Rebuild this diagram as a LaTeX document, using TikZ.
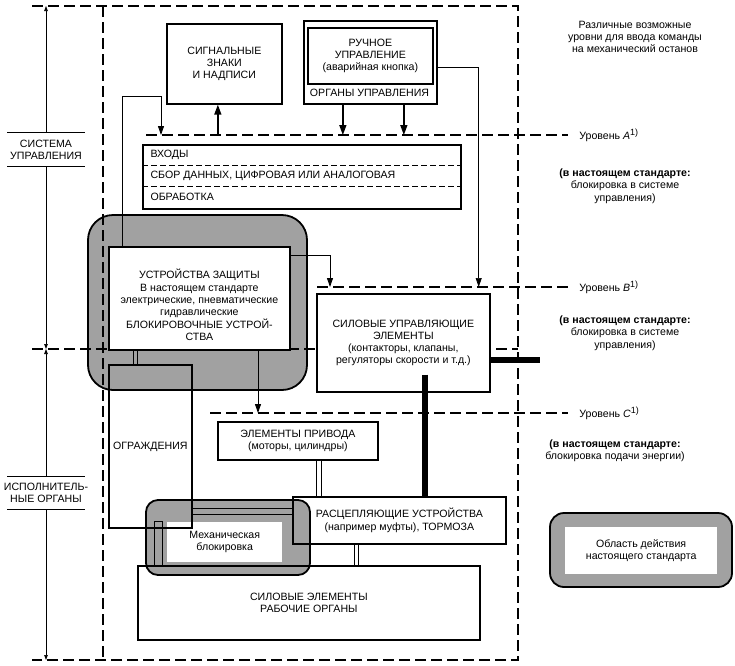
\documentclass[tikz,border=0pt]{standalone}
\usepackage{fontspec}
\setmainfont{Liberation Sans}
\usetikzlibrary{arrows.meta}

\tikzset{
    box/.style={draw, line width=1.7pt, inner sep=2pt, align=center, anchor=north west},
    scopezone/.style={draw, line width=1.8pt, fill=black!37},
    frame/.style={line width=2.1pt, dash pattern=on 11pt off 5pt},
    sepline/.style={line width=0.9pt, dash pattern=on 6pt off 3pt},
    bigarrow/.style={line width=1.5pt, -{Triangle[length=10pt, width=7pt]}},
    thinarrow/.style={line width=0.9pt, -{Triangle[length=9pt, width=6pt]}},
    dimarrow/.style={line width=0.7pt, -{Triangle[length=5pt, width=3.5pt]}},
    mechlink/.style={line width=1pt, double=#1, double distance=3.5pt},
    mechlink/.default=white,
    powerbar/.style={line width=5.5pt},
    note/.style={align=center},
    sidelabel/.style={align=center, minimum height=33, inner sep=0pt},
}

\begin{document}
\begin{tikzpicture}[x=1pt, y=-1pt, font=\fontsize{10.6}{12.3}\selectfont]
    \useasboundingbox (0,0) rectangle (735,665);

    % Levels of the frame
    \coordinate (frametop) at (0,6);
    \coordinate (framebot) at (0,660);
    \coordinate (mid) at (0,349);
    \coordinate (levA) at (0,135);
    \coordinate (levB) at (0,287);
    \coordinate (levC) at (0,413);

    % Scope of the standard (grey zones)
    \draw[scopezone, rounded corners=25] (88,215) rectangle (307,390);
    \draw[scopezone, rounded corners=12] (146,500) rectangle (310,575);
    \node[fill=white, minimum width=115, minimum height=40, anchor=north west, align=center] (mech) at (167,522) {Механическая\\блокировка};
    \draw[scopezone, rounded corners=14] (550,513) rectangle (732,587);
    \node[fill=white, minimum width=152, minimum height=47, anchor=north west, align=center] (legend) at (565,527) {Область действия\\настоящего стандарта};

    % Dashed frame and levels
    \draw[frame] (32,6) -- (518,6) -- (518,660) -- (32,660);
    \draw[frame] (103,6) -- (103,660);
    \draw[frame] (32,349) -- (518,349);
    \draw[frame] (146,135) -- (568,135) node[anchor=west, xshift=7pt] (levAtext) {Уровень \textit{A}\textsuperscript{\small 1)}};
    \draw[frame] (317,287) -- (568,287) node[anchor=west, xshift=7pt] (levBtext) {Уровень \textit{B}\textsuperscript{\small 1)}};
    \draw[frame] (210,413) -- (568,413) node[anchor=west, xshift=7pt] (levCtext) {Уровень \textit{C}\textsuperscript{\small 1)}};

    % Notes on the right
    \node[note] (levels) at (635,37) {Различные возможные\\уровни для ввода команды\\на механический останов};
    \node[note] (noteA) at (625,186) {\textbf{(в настоящем стандарте:}\\блокировка в системе\\управления)};
    \node[note] (noteB) at (625,333) {\textbf{(в настоящем стандарте:}\\блокировка в системе\\управления)};
    \node[note] (noteC) at (615,450.5) {\textbf{(в настоящем стандарте:}\\блокировка подачи энергии)};

    % Side labels
    \node[sidelabel] (ctrlsys) at (46,149.5) {СИСТЕМА\\УПРАВЛЕНИЯ};
    \node[sidelabel] (actsys) at (46,493) {ИСПОЛНИТЕЛЬ-\\НЫЕ ОРГАНЫ};
    \foreach \lab in {ctrlsys, actsys} {
        \draw[line width=0.7pt] ([xshift=-39pt]\lab.north) -- ([xshift=39pt]\lab.north);
        \draw[line width=0.7pt] ([xshift=-39pt]\lab.south) -- ([xshift=39pt]\lab.south);
    }
    \draw[dimarrow] (ctrlsys.north) -- (ctrlsys.north |- frametop);
    \draw[dimarrow] (ctrlsys.south) -- (ctrlsys.south |- mid);
    \draw[dimarrow] (actsys.north) -- (actsys.north |- mid);
    \draw[dimarrow] (actsys.south) -- (actsys.south |- framebot);

    % Control system
    \node[box, minimum width=115, minimum height=80] (signs) at (166,23) {СИГНАЛЬНЫЕ\\ЗНАКИ\\И НАДПИСИ};
    \node[box, minimum width=133, minimum height=83] (ctrl) at (303,20) {};
    \node[box, minimum width=125, minimum height=56] (manual) at (307,27) {РУЧНОЕ\\УПРАВЛЕНИЕ\\(аварийная кнопка)};
    \node (ctrltext) at (369.5,93) {ОРГАНЫ УПРАВЛЕНИЯ};
    \node[box, minimum width=318, minimum height=64] (proc) at (142,144) {};
    \draw[sepline] ([yshift=-21.3pt]proc.north west) -- ([yshift=-21.3pt]proc.north east);
    \draw[sepline] ([yshift=-42.7pt]proc.north west) -- ([yshift=-42.7pt]proc.north east);
    \foreach \txt [count=\i] in {ВХОДЫ, {СБОР ДАННЫХ, ЦИФРОВАЯ ИЛИ АНАЛОГОВАЯ}, ОБРАБОТКА}
        \node[anchor=west] (proc\i) at ([xshift=5pt, yshift={-10.7pt-21.3pt*(\i-1)}]proc.north west) {\txt};

    % Protective devices
    \node[box, fill=white, minimum width=181, minimum height=103] (prot) at (108,246) {};
    \node[align=center] (prottext) at ([yshift=-6.5pt]prot.center) {УСТРОЙСТВА ЗАЩИТЫ\\В настоящем стандарте\\электрические, пневматические\\гидравлические\\БЛОКИРОВОЧНЫЕ УСТРОЙ-\\СТВА};
    \node[box, minimum width=83, minimum height=163] (guard) at (108,364) {ОГРАЖДЕНИЯ};

    % Power part
    \node[box, fill=white, minimum width=173, minimum height=98] (pctrl) at (316,293) {СИЛОВЫЕ УПРАВЛЯЮЩИЕ\\ЭЛЕМЕНТЫ\\(контакторы, клапаны,\\регуляторы скорости и т.д.)};
    \node[box, minimum width=160, minimum height=38] (drive) at (217,421) {ЭЛЕМЕНТЫ ПРИВОДА\\(моторы, цилиндры)};
    \node[box, minimum width=213, minimum height=47] (clutch) at (292,496) {РАСЦЕПЛЯЮЩИЕ УСТРОЙСТВА\\(например муфты), ТОРМОЗА};
    \node[box, minimum width=342, minimum height=74] (work) at (137,565) {СИЛОВЫЕ ЭЛЕМЕНТЫ\\РАБОЧИЕ ОРГАНЫ};

    % Commands into level A
    \coordinate (ctrlL) at ([xshift=-27.5pt]ctrl.south);
    \coordinate (ctrlR) at ([xshift=33.5pt]ctrl.south);
    \draw[bigarrow] (ctrlL) -- (ctrlL |- levA);
    \draw[bigarrow] (ctrlR) -- (ctrlR |- levA);
    \coordinate (sigA) at ([xshift=-6.5pt]signs.south);
    \draw[bigarrow] (sigA |- levA) -- (sigA);
    \coordinate (protup) at ([xshift=14pt]prot.north west);
    \coordinate (procA) at ([xshift=19pt]proc.north west |- levA);
    \draw[thinarrow] (protup) |- ([yshift=39pt]procA) -- (procA);

    % Commands into levels B and C
    \coordinate (protout) at ([yshift=-9pt]prot.north east);
    \coordinate (pctrlin) at ([xshift=14pt]pctrl.north west);
    \draw[thinarrow] (protout) -| (pctrlin |- levB);
    \coordinate (pctrlman) at ([xshift=-12pt]pctrl.north east);
    \draw[thinarrow, line width=0.7pt] ([yshift=-4.5pt]ctrl.east) -| (pctrlman |- levB);
    \coordinate (protdown) at ([xshift=150pt]prot.south west);
    \draw[thinarrow] (protdown) -- (protdown |- levC);

    % Power bars
    \coordinate (pbar) at ([yshift=-67pt]pctrl.north east);
    \draw[powerbar] (pbar) -- ++(49,0);
    \coordinate (vbar) at ([xshift=109pt, yshift=18pt]pctrl.south west);
    \draw[powerbar] (vbar) -- (vbar |- clutch.north);

    % Mechanical links
    \coordinate (guardtop) at ([xshift=27.5pt]guard.north west);
    \draw[mechlink=black!37] (guardtop) -- (guardtop |- prot.south);
    \coordinate (guardside) at ([yshift=-147.5pt]guard.north east);
    \draw[mechlink=black!37, double distance=5pt] (guardside) -- (guardside -| clutch.west);
    \coordinate (pinL) at ([xshift=46pt, yshift=7pt]guard.south west);
    \coordinate (pinR) at ([xshift=54pt, yshift=7pt]guard.south west);
    \draw[line width=1pt] (pinL |- work.north) -- (pinL) -- (pinR) -- (pinR |- work.north);
    \coordinate (drivelink) at ([xshift=102pt]drive.south west);
    \draw[mechlink, double distance=4.5pt] (drivelink) -- (drivelink |- clutch.north);
    \coordinate (clutchlink) at ([xshift=64.5pt]clutch.south west);
    \draw[mechlink] (clutchlink) -- (clutchlink |- work.north);
\end{tikzpicture}
\end{document}
